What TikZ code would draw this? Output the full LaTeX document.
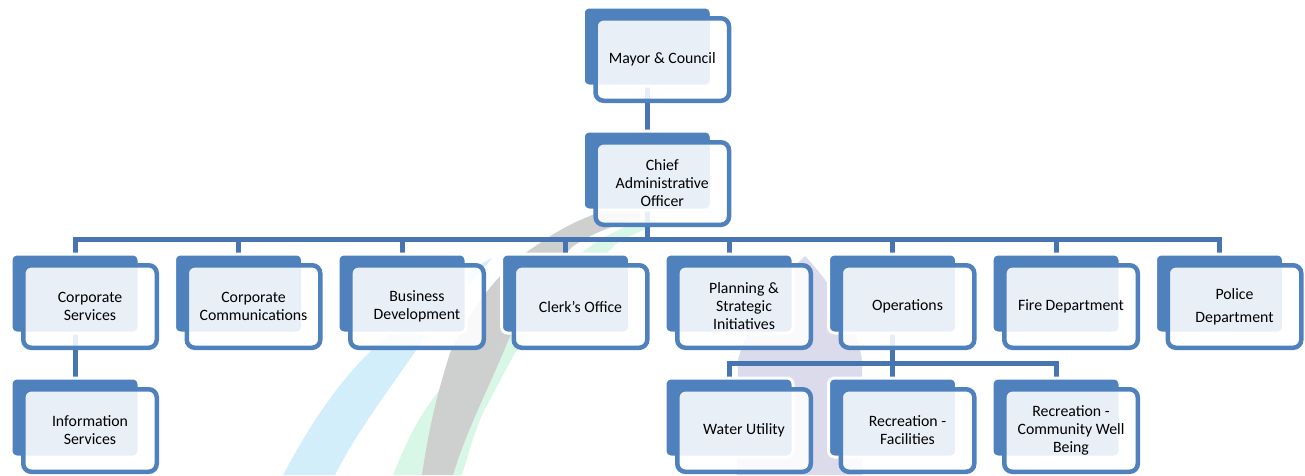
\documentclass[tikz,border=0pt]{standalone}
\usepackage{fontspec}
\setmainfont{Carlito}
\usetikzlibrary{backgrounds}

\definecolor{boxblue}{RGB}{79,129,189}
\definecolor{linkblue}{RGB}{70,117,178}
\definecolor{swblue}{RGB}{211,238,251}
\definecolor{swgray}{RGB}{206,208,208}
\definecolor{swgreen}{RGB}{216,247,230}
\definecolor{swlav}{RGB}{219,219,235}

\tikzstyle{unitback}=[fill=boxblue,draw=white,line width=3pt,rounded corners=6pt,minimum width=128pt,minimum height=79pt,inner sep=0pt]
\tikzstyle{unitfront}=[draw=boxblue,line width=4.5pt,fill=white,fill opacity=.88,text opacity=1,rounded corners=8pt,minimum width=133.5pt,minimum height=82.5pt,inner sep=0pt,align=center,font=\fontsize{15.8}{18}\selectfont]
\tikzstyle{orgline}=[draw=linkblue,line width=5pt]
\def\colw{163.5}

\begin{document}
\begin{tikzpicture}[x=1pt,y=-1pt]
\useasboundingbox (0,0) rectangle (1305,475);

% top of the tree
\node[unitback] (mayor-b) at (647.25,46.5) {};
\node[unitfront] (mayor) at (662.25,59.5) {Mayor \& Council};
\node[unitback] (cao-b) at (647.25,170.5) {};
\node[unitfront] (cao) at (662.25,183.5) {Chief\\Administrative\\Officer};

% departments
\foreach \k/\nm/\txt in {0/cs/{Corporate\\Services},1/cc/{Corporate\\Communications},2/bd/{Business\\Development},3/co/{Clerk's Office},4/ps/{Planning \&\\Strategic\\Initiatives},5/op/{Operations},6/fd/{Fire Department},7/pd/{Police\\[5pt]Department}}
{
	\node[unitback] (\nm-b) at ({75+\k*\colw},293.5) {};
	\node[unitfront] (\nm) at ({90+\k*\colw},306.5) {\txt};
}

% divisions
\foreach \k/\nm/\txt in {0/is/{Information\\Services},4/wu/{Water Utility},5/rf/{Recreation -\\Facilities},6/rc/{Recreation -\\Community Well\\Being}}
{
	\node[unitback] (\nm-b) at ({75+\k*\colw},417.5) {};
	\node[unitfront] (\nm) at ({90+\k*\colw},430.5) {\txt};
}

\coordinate (bus) at (647.25,239.5);
\coordinate (subbus) at (892.5,363);

\begin{pgfonlayer}{background}
	% watermark
	\fill[swblue] (283,475) .. controls (315,415) and (345,375) .. (372,350) .. controls (410,315) and (450,280) .. (492,258) .. controls (470,285) and (440,315) .. (415,352) .. controls (385,395) and (355,435) .. (335,475) -- cycle;
	\fill[swgreen] (393,475) .. controls (405,445) and (415,425) .. (425,410) .. controls (455,365) and (530,285) .. (600,240) .. controls (620,228) and (640,220) .. (655,215) -- (655,226) .. controls (640,231) and (625,238) .. (615,245) .. controls (570,290) and (540,320) .. (515,353) .. controls (500,380) and (490,400) .. (483,413) .. controls (475,430) and (468,455) .. (462,475) -- cycle;
	\fill[swgray] (422,475) .. controls (430,420) and (440,385) .. (450,353) .. controls (475,300) and (505,265) .. (537,245) .. controls (565,225) and (600,208) .. (640,203) -- (640,220) .. controls (610,225) and (590,235) .. (572,247) .. controls (545,275) and (520,310) .. (503,353) .. controls (485,395) and (465,435) .. (453,475) -- cycle;
	\fill[swlav] (737,475) -- (738,360) .. controls (750,315) and (780,280) .. (805,256) .. controls (832,285) and (855,320) .. (862,360) -- (862,475) -- cycle;

	\draw[orgline] (mayor-b.center) -- (cao-b.north);
	\foreach \nm in {cs,cc,bd,co,ps,op,fd,pd}
		\draw[orgline] (cao-b.center) -- (cao-b.center |- bus) -| (\nm-b.north);
	\draw[orgline] (cs-b.center) -- (is-b.north);
	\foreach \nm in {wu,rf,rc}
		\draw[orgline] (op-b.center) -- (op-b.center |- subbus) -| (\nm-b.north);
\end{pgfonlayer}
\end{tikzpicture}
\end{document}
